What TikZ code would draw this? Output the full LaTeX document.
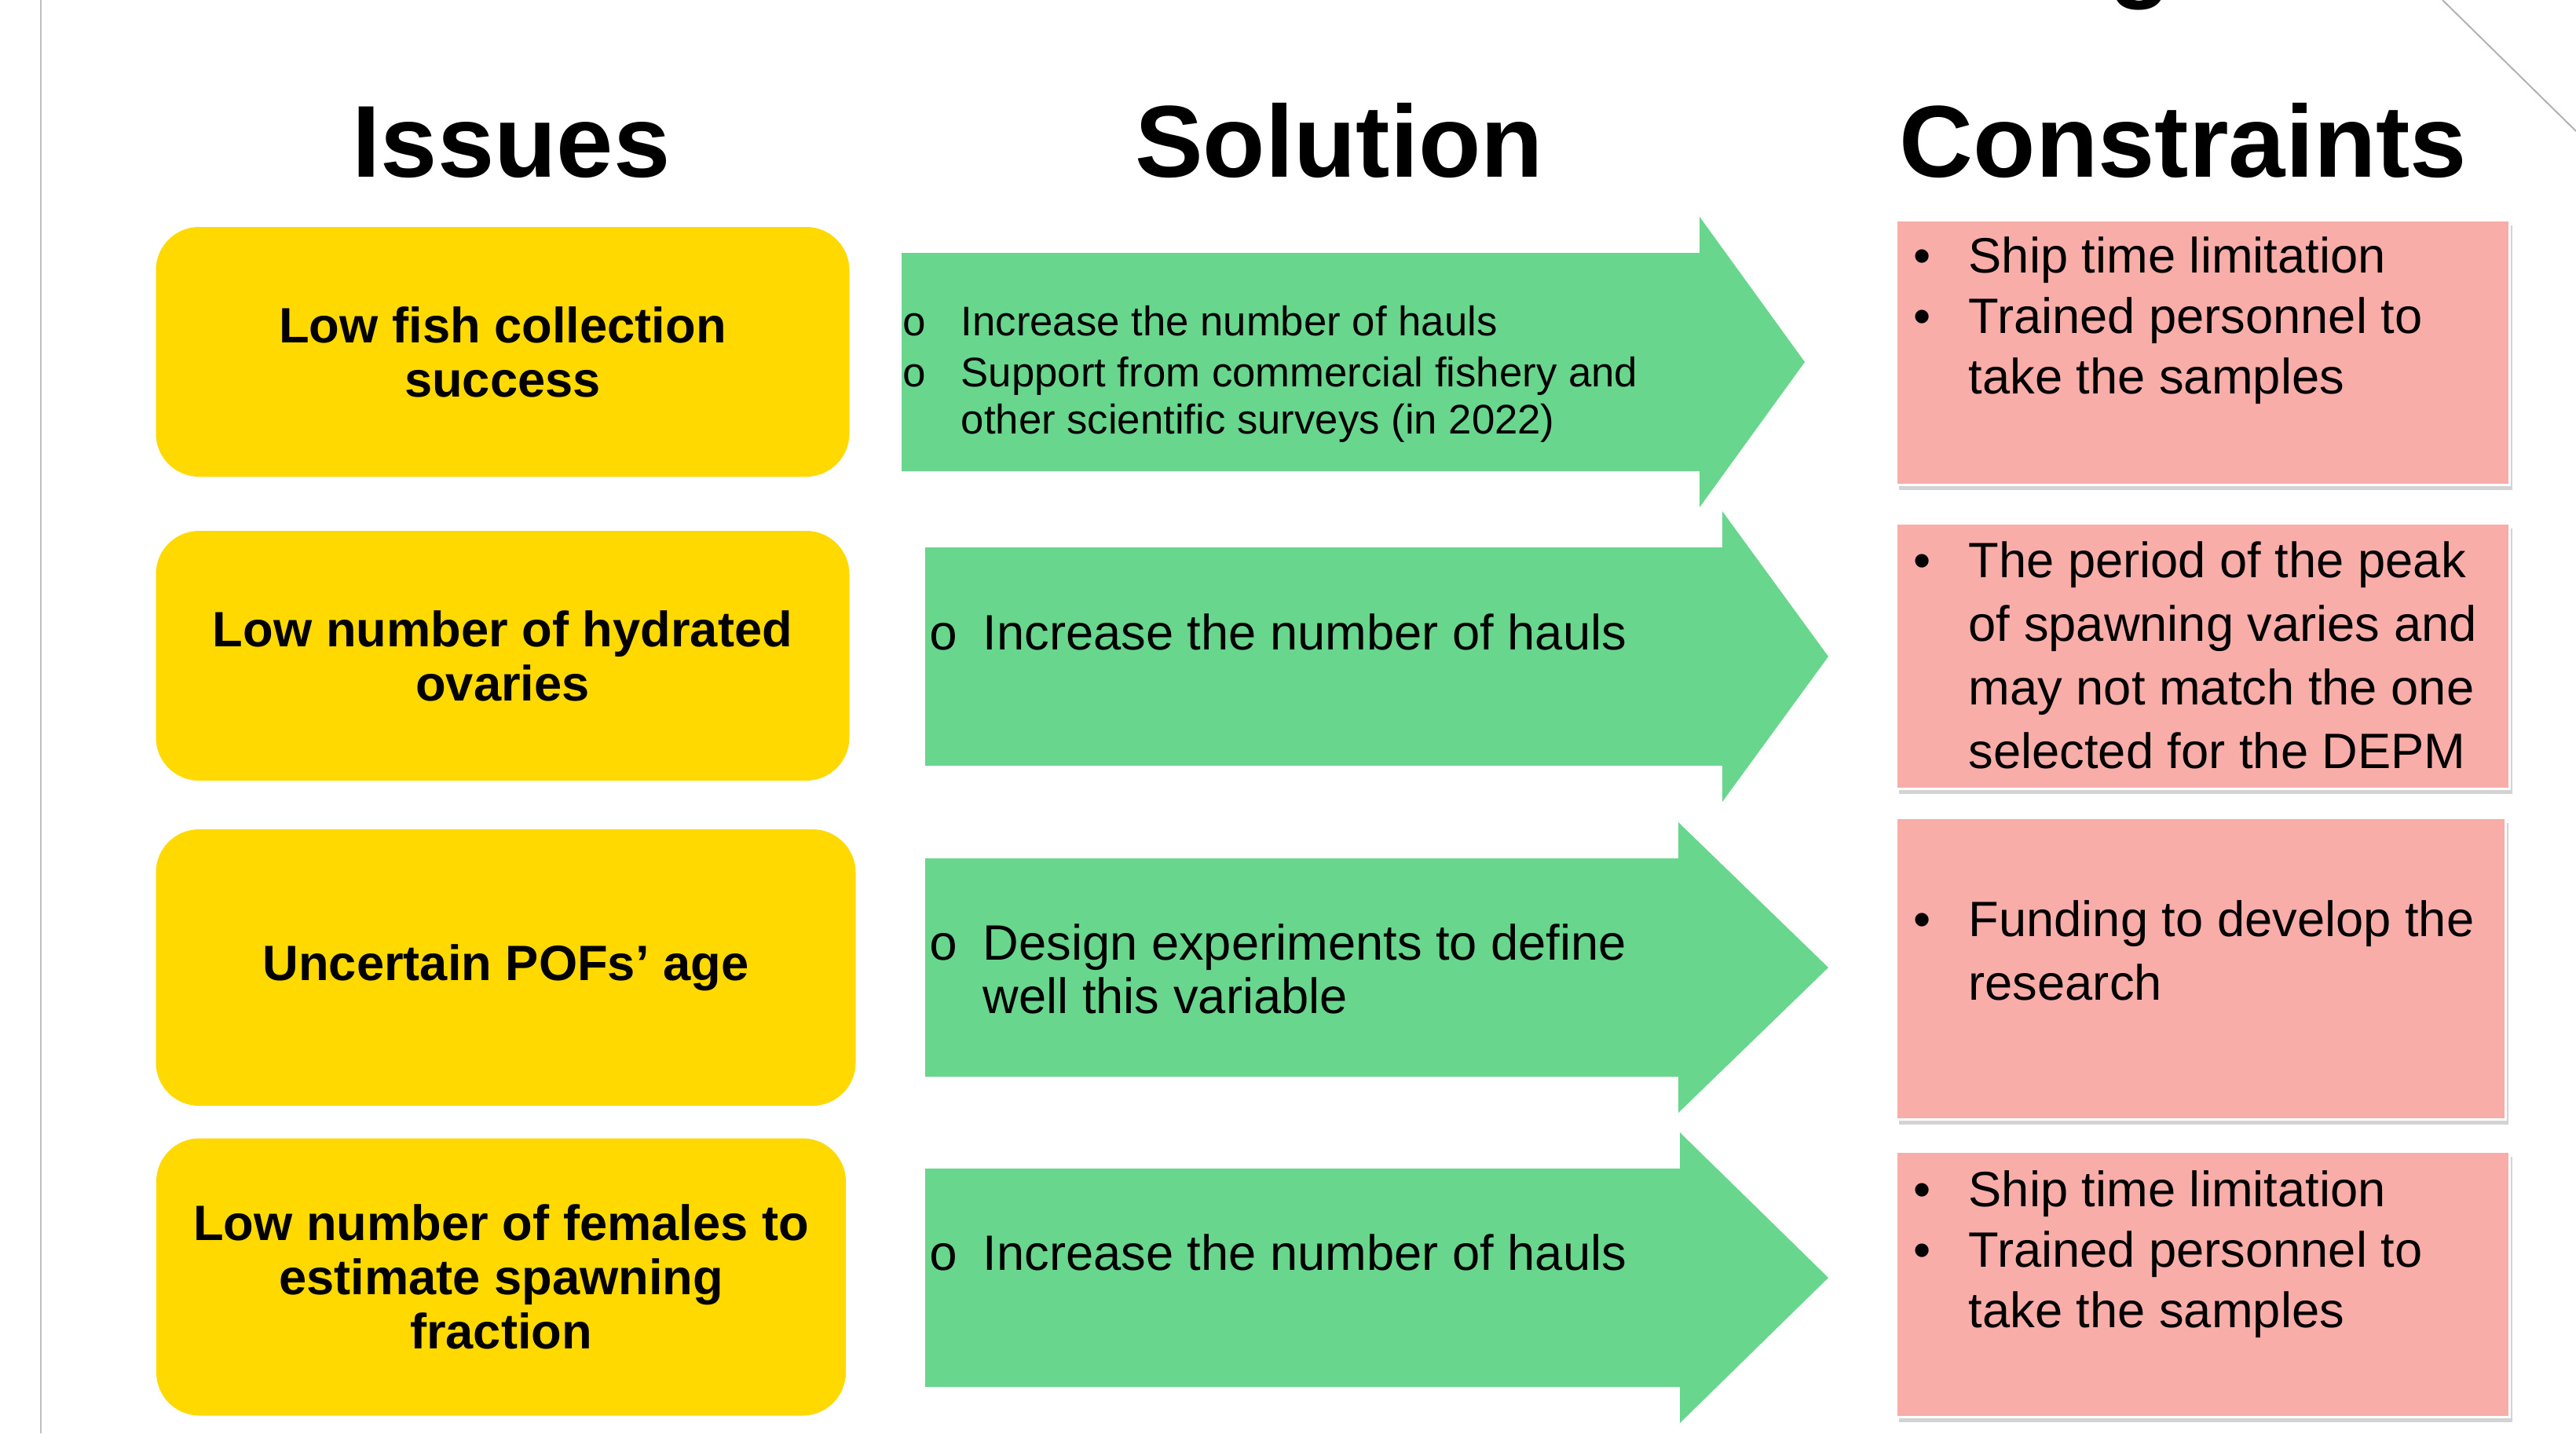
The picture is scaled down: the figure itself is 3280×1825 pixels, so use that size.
\documentclass[tikz,border=0pt]{standalone}
\usepackage{fontspec}
\setmainfont{Liberation Sans}
\newfontfamily\holfont{Liberation Mono}
\usetikzlibrary{shadows}

\definecolor{issueyellow}{RGB}{255,217,0}
\definecolor{solgreen}{RGB}{104,214,140}
\definecolor{conpink}{RGB}{249,173,168}

\newcommand{\hol}[1][6.9mm]{\makebox[#1][l]{\holfont o}}
\newcommand{\bul}{\makebox[7mm][l]{•}}
\newcommand{\ind}[1][7mm]{\makebox[#1]{}}

\begin{document}
\begin{tikzpicture}[x=0.1mm,y=-0.1mm]
  \tikzstyle{head}=[font=\fontsize{37}{40}\selectfont\bfseries,anchor=base]
  \tikzstyle{issue}=[fill=issueyellow,rounded corners=5.5mm,align=center,
                     font=\fontsize{18}{19.6}\selectfont\bfseries]
  \tikzstyle{con}=[fill=conpink,draw=white,line width=0.3mm,anchor=north west,
                   drop shadow={shadow xshift=0.3mm,shadow yshift=-0.6mm,opacity=0.35}]
  % base = baseline of the last line
  \tikzstyle{txt}=[anchor=base west,align=left,inner sep=0pt]

  \useasboundingbox (0,0) rectangle (3280,1825);

  % slide frame
  \draw[black!25,line width=0.2mm] (52,0) -- (52,1825);
  \draw[black!30,line width=0.2mm] (3110,0) -- (3280,167);
  \node[head] (ttl) at (2725,-15) {g};

  % column heads
  \node[head] (hiss) at (651,225)  {Issues};
  \node[head] (hsol) at (1705,225) {Solution};
  \node[head] (hcon) at (2780,225) {Constraints};

  % issues
  \node[issue,minimum width=88.3mm,minimum height=31.8mm] (i1) at (640,448)
       {Low fish collection\\success};
  \node[issue,minimum width=88.3mm,minimum height=31.8mm] (i2) at (640,835)
       {Low number of hydrated\\ovaries};
  \node[issue,minimum width=89.1mm,minimum height=35.2mm] (i3) at (644,1232)
       {Uncertain POFs’ age};
  \node[issue,minimum width=87.8mm,minimum height=35.3mm] (i4) at (638,1626)
       {Low number of females to\\estimate spawning\\fraction};

  % solution arrows
  \foreach \xa/\xb/\xc/\yc in {1148/2164/2298/461, 1178/2193/2328/836,
                               1178/2137/2328/1232, 1178/2139/2328/1627}
    \fill[solgreen] (\xa,\yc-139) -- (\xb,\yc-139) -- (\xb,\yc-185) -- (\xc,\yc)
                 -- (\xb,\yc+185) -- (\xb,\yc+139) -- (\xa,\yc+139) -- cycle;

  \node[txt,font=\fontsize{15}{16.8}\selectfont] (s1) at (1148,552)
       {\hol[7.5mm]Increase the number of hauls\\[1.7pt]
        \hol[7.5mm]Support from commercial fishery and\\
        \ind[7.5mm]other scientific surveys (in 2022)};
  \node[txt,font=\fontsize{18}{19.35}\selectfont] (s2) at (1182,827)
       {\hol Increase the number of hauls};
  \node[txt,font=\fontsize{18}{19.35}\selectfont] (s3) at (1182,1290)
       {\hol Design experiments to define\\\ind[6.9mm]well this variable};
  \node[txt,font=\fontsize{18}{19.35}\selectfont] (s4) at (1182,1617)
       {\hol Increase the number of hauls};

  % constraints
  \node[con,minimum width=78.1mm,minimum height=33.7mm] (c1) at (2413,279) {};
  \node[con,minimum width=78.1mm,minimum height=33.8mm] (c2) at (2413,665) {};
  \node[con,minimum width=77.6mm,minimum height=38.4mm] (c3) at (2413,1040) {};
  \node[con,minimum width=78.1mm,minimum height=33.8mm] (c4) at (2413,1465) {};

  \node[txt,font=\fontsize{18}{21.9}\selectfont] (c1t) at (2436,501)
       {\bul Ship time limitation\\\bul Trained personnel to\\\ind take the samples};
  \node[txt,font=\fontsize{18}{23}\selectfont] (c2t) at (2436,978)
       {\bul The period of the peak\\\ind of spawning varies and\\
        \ind may not match the one\\\ind selected for the DEPM};
  \node[txt,font=\fontsize{18}{23}\selectfont] (c3t) at (2436,1273)
       {\bul Funding to develop the\\\ind research};
  \node[txt,font=\fontsize{18}{21.9}\selectfont] (c4t) at (2436,1690)
       {\bul Ship time limitation\\\bul Trained personnel to\\\ind take the samples};
\end{tikzpicture}
\end{document}
